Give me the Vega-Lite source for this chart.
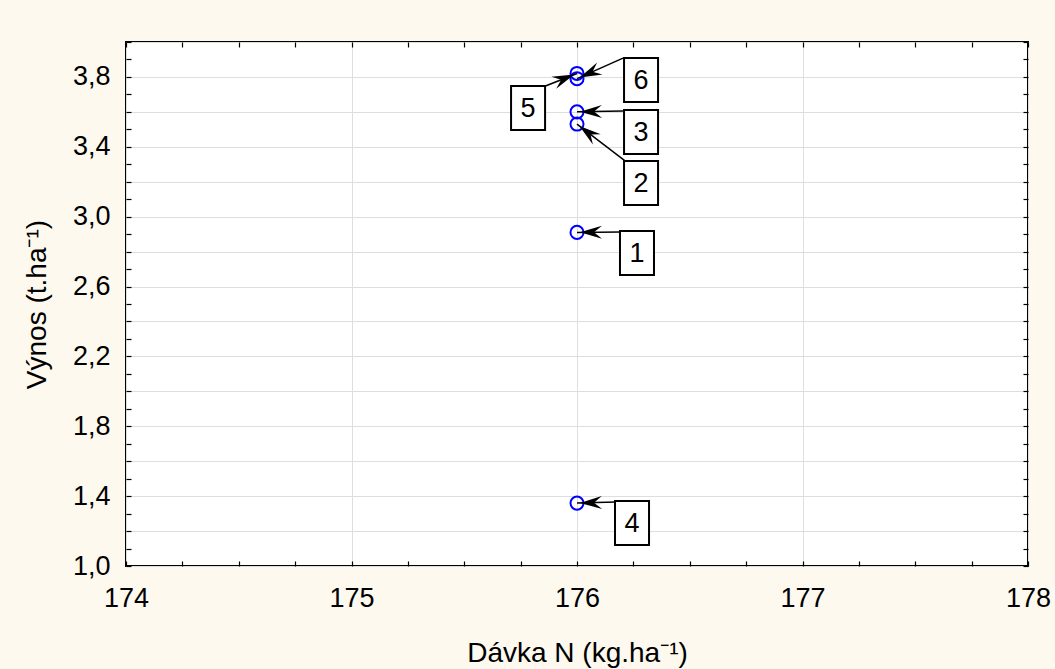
{
  "$schema": "https://vega.github.io/schema/vega-lite/v6.json",
  "width": 902,
  "height": 524,
  "autosize": {"type": "none"},
  "padding": {"left": 126, "top": 42, "right": 27, "bottom": 103},
  "background": "#fdf9ef",
  "config": {
    "view": {"fill": "white", "stroke": "black", "strokeWidth": 2},
    "font": "Liberation Sans",
    "axis": {
      "domain": false,
      "labelFont": "Liberation Sans",
      "labelFontSize": 27,
      "labelColor": "black",
      "titleFont": "Liberation Sans",
      "titleFontSize": 28,
      "titleFontWeight": "normal",
      "titleColor": "black",
      "tickColor": "black",
      "tickWidth": 1.2,
      "gridColor": "#dedede",
      "gridWidth": 1
    }
  },
  "data": {
    "values": [
      {"bod": "1", "davka": 176, "vynos": 2.91, "tx": 176.191, "ty": 2.912, "lx": 176.266, "ly": 2.792},
      {"bod": "2", "davka": 176, "vynos": 3.53, "tx": 176.213, "ty": 3.319, "lx": 176.284, "ly": 3.193},
      {"bod": "3", "davka": 176, "vynos": 3.60, "tx": 176.204, "ty": 3.605, "lx": 176.284, "ly": 3.485},
      {"bod": "4", "davka": 176, "vynos": 1.36, "tx": 176.173, "ty": 1.366, "lx": 176.244, "ly": 1.246},
      {"bod": "5", "davka": 176, "vynos": 3.82, "tx": 175.849, "ty": 3.742, "lx": 175.783, "ly": 3.622},
      {"bod": "6", "davka": 176, "vynos": 3.79, "tx": 176.204, "ty": 3.908, "lx": 176.284, "ly": 3.782}
    ]
  },
  "resolve": {"axis": {"x": "independent", "y": "independent"}},
  "layer": [
    {
      "mark": {"type": "point", "shape": "circle", "size": 170, "filled": false, "stroke": "#0000ff", "strokeWidth": 2, "opacity": 1},
      "encoding": {
        "x": {
          "field": "davka", "type": "quantitative",
          "scale": {"domain": [174, 178], "nice": false, "zero": false},
          "axis": {
            "orient": "bottom", "values": [174, 175, 176, 177, 178],
            "grid": true, "ticks": false, "labels": true,
            "labelPadding": 19, "labelFlush": false, "labelOverlap": false,
            "title": "Dávka N (kg.ha⁻¹)", "titleY": 95, "titleBaseline": "alphabetic"
          }
        },
        "y": {
          "field": "vynos", "type": "quantitative",
          "scale": {"domain": [1, 4], "nice": false, "zero": false},
          "axis": {
            "orient": "left",
            "values": [1, 1.2, 1.4, 1.6, 1.8, 2, 2.2, 2.4, 2.6, 2.8, 3, 3.2, 3.4, 3.6, 3.8, 4],
            "grid": true, "ticks": false, "labels": true,
            "labelPadding": 16, "labelOverlap": false,
            "labelExpr": "round(datum.value * 10) % 4 == 2 ? replace(format(datum.value, '.1f'), '.', ',') : ''",
            "title": "Výnos (t.ha⁻¹)", "titleX": -81, "titleY": 262, "titleAngle": -90,
            "titleAlign": "center", "titleBaseline": "alphabetic"
          }
        }
      }
    },
    {
      "mark": {"type": "rule", "color": "black", "strokeWidth": 1.5},
      "encoding": {
        "x": {
          "field": "tx", "type": "quantitative",
          "scale": {"domain": [174, 178], "nice": false, "zero": false},
          "axis": {
            "orient": "bottom",
            "values": [174, 174.25, 174.5, 174.75, 175, 175.25, 175.5, 175.75, 176, 176.25, 176.5, 176.75, 177, 177.25, 177.5, 177.75, 178],
            "grid": false, "labels": false, "ticks": true, "tickSize": -5, "title": null
          }
        },
        "y": {
          "field": "ty", "type": "quantitative",
          "scale": {"domain": [1, 4], "nice": false, "zero": false},
          "axis": {
            "orient": "left",
            "values": [1, 1.1, 1.2, 1.3, 1.4, 1.5, 1.6, 1.7, 1.8, 1.9, 2, 2.1, 2.2, 2.3, 2.4, 2.5, 2.6, 2.7, 2.8, 2.9, 3, 3.1, 3.2, 3.3, 3.4, 3.5, 3.6, 3.7, 3.8, 3.9, 4],
            "grid": false, "labels": false, "ticks": true, "tickSize": -5, "title": null
          }
        },
        "x2": {"field": "davka"},
        "y2": {"field": "vynos"}
      }
    },
    {
      "transform": [
        {"calculate": "atan2((datum.vynos - datum.ty) * 174.67, (datum.tx - datum.davka) * 225.5) * 180 / PI", "as": "uhel"}
      ],
      "mark": {"type": "point", "shape": "M0.3,0L2.5,-0.65L1.7,0L2.5,0.65Z", "size": 400, "filled": true, "color": "black", "opacity": 1, "strokeWidth": 0},
      "encoding": {
        "x": {
          "field": "davka", "type": "quantitative",
          "scale": {"domain": [174, 178], "nice": false, "zero": false},
          "axis": {
            "orient": "top",
            "values": [174, 174.25, 174.5, 174.75, 175, 175.25, 175.5, 175.75, 176, 176.25, 176.5, 176.75, 177, 177.25, 177.5, 177.75, 178],
            "grid": false, "labels": false, "ticks": true, "tickSize": -5, "title": null
          }
        },
        "y": {
          "field": "vynos", "type": "quantitative",
          "scale": {"domain": [1, 4], "nice": false, "zero": false},
          "axis": {
            "orient": "right",
            "values": [1, 1.1, 1.2, 1.3, 1.4, 1.5, 1.6, 1.7, 1.8, 1.9, 2, 2.1, 2.2, 2.3, 2.4, 2.5, 2.6, 2.7, 2.8, 2.9, 3, 3.1, 3.2, 3.3, 3.4, 3.5, 3.6, 3.7, 3.8, 3.9, 4],
            "grid": false, "labels": false, "ticks": true, "tickSize": -5, "title": null
          }
        },
        "angle": {"field": "uhel", "type": "quantitative", "scale": null}
      }
    },
    {
      "mark": {"type": "point", "shape": "M-0.773,-1L0.773,-1L0.773,1L-0.773,1Z", "size": 1936, "filled": true, "fill": "white", "stroke": "black", "strokeWidth": 2, "opacity": 1, "fillOpacity": 1},
      "encoding": {
        "x": {"field": "lx", "type": "quantitative", "scale": {"domain": [174, 178], "nice": false, "zero": false}, "axis": null},
        "y": {"field": "ly", "type": "quantitative", "scale": {"domain": [1, 4], "nice": false, "zero": false}, "axis": null}
      }
    },
    {
      "mark": {"type": "text", "font": "Liberation Sans", "fontSize": 27, "color": "black", "align": "center", "baseline": "middle", "dy": 1},
      "encoding": {
        "x": {"field": "lx", "type": "quantitative", "scale": {"domain": [174, 178], "nice": false, "zero": false}, "axis": null},
        "y": {"field": "ly", "type": "quantitative", "scale": {"domain": [1, 4], "nice": false, "zero": false}, "axis": null},
        "text": {"field": "bod"}
      }
    }
  ]
}
